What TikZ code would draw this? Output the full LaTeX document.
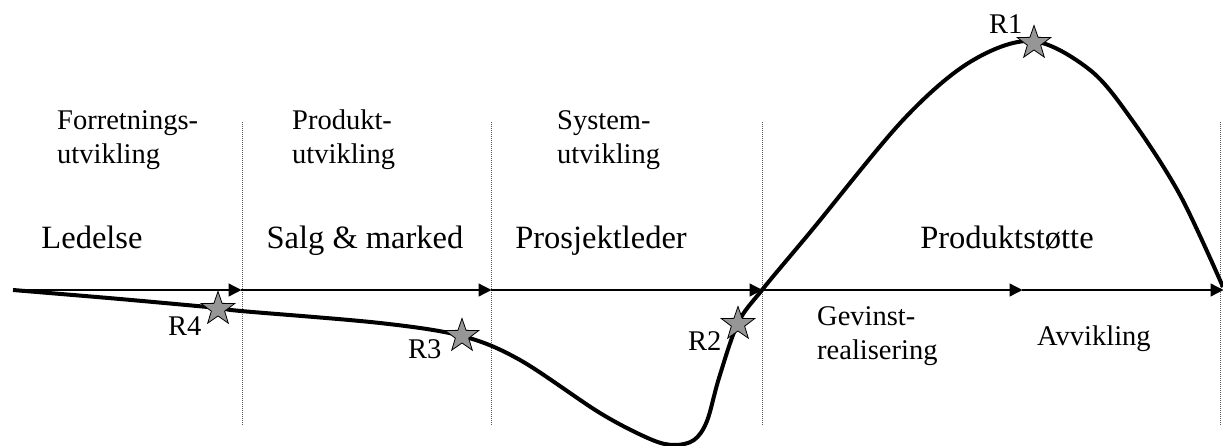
\documentclass[tikz,border=0pt]{standalone}
\usepackage{fontspec}
\setmainfont{Liberation Serif}
\usetikzlibrary{shapes.geometric,arrows.meta}
\definecolor{starfill}{RGB}{150,150,150}
\definecolor{divline}{RGB}{90,90,90}
\tikzset{
  small/.style={font=\fontsize{28.5}{34}\selectfont, inner sep=0pt, align=left, anchor=base west},
  big/.style={font=\fontsize{32.5}{39}\selectfont, inner sep=0pt, anchor=base},
  lab/.style={font=\fontsize{28.5}{34}\selectfont, inner sep=0pt, anchor=base west},
  risk/.style={star, star points=5, star point ratio=2.5, minimum size=35pt, inner sep=0pt,
     fill=starfill, draw=black, line width=0.8pt},
  divider/.style={draw=divline, line width=1pt, dash pattern=on 1pt off 1pt},
  phase/.style={draw=black, line width=1.3pt, -{Triangle[length=13pt,width=13pt]}, shorten >=-0.5pt},
  lifecurve/.style={draw=black, line width=4pt, line join=round},
}
\begin{document}
\begin{tikzpicture}[x=1pt,y=-1pt]
\useasboundingbox (0,0) rectangle (1223,445);
% dividers
\foreach \xx/\nm in {242/d1,491/d2,762/d3,1220/d4}{
  \coordinate (\nm t) at (\xx,122);
  \coordinate (\nm b) at (\xx,425);
  \draw[divider] (\nm t) -- (\nm b);
}
% axis points
\coordinate (a0) at (13,290);
\coordinate (a1) at (241,290);
\coordinate (a2) at (491,290);
\coordinate (a3) at (762,290);
\coordinate (a4) at (1022,290);
\coordinate (a5) at (1223,290);
\draw[phase] (a0) -- (a1);
\draw[phase] (a1) -- (a2);
\draw[phase] (a2) -- (a3);
\draw[phase] (a3) -- (a4);
\draw[phase] (a4) -- (a5);
% life curve
\draw[lifecurve] plot[smooth, tension=0.55] coordinates {
 (13,290) (120,299) (218,308) (241,311) (380,323) (462,336) (520,360) (600,413)
 (650,439) (674,445) (694,440) (707,421) (719,378) (738,323) (762,290) (812,230)
 (903,120) (970,62) (1032,41) (1090,70) (1132,120) (1180,195) (1223,287)};
% stars
\node[risk] (r1) at (1034,43) {};
\node[risk] (r2) at (738,324) {};
\node[risk] (r3) at (462,336) {};
\node[risk] (r4) at (218,309) {};
\node[lab] (l1) at (989,33) {R1};
\node[lab] (l2) at (688,350) {R2};
\node[lab] (l3) at (408,358) {R3};
\node[lab] (l4) at (168,335) {R4};
% upper labels (anchor at baseline of last line)
\node[small] (t1) at (57,163) {Forretnings-\\utvikling};
\node[small] (t2) at (292,163) {Produkt-\\utvikling};
\node[small] (t3) at (557,163) {System-\\utvikling};
% roles
\node[big] (b1) at (92,248) {Ledelse};
\node[big] (b2) at (365,248) {Salg \& marked};
\node[big] (b3) at (601,248) {Prosjektleder};
\node[big] (b4) at (1007,248) {Produktstøtte};
% lower labels
\node[small] (g1) at (817,359) {Gevinst-\\realisering};
\node[small] (g2) at (1037,345) {Avvikling};
\end{tikzpicture}
\end{document}
